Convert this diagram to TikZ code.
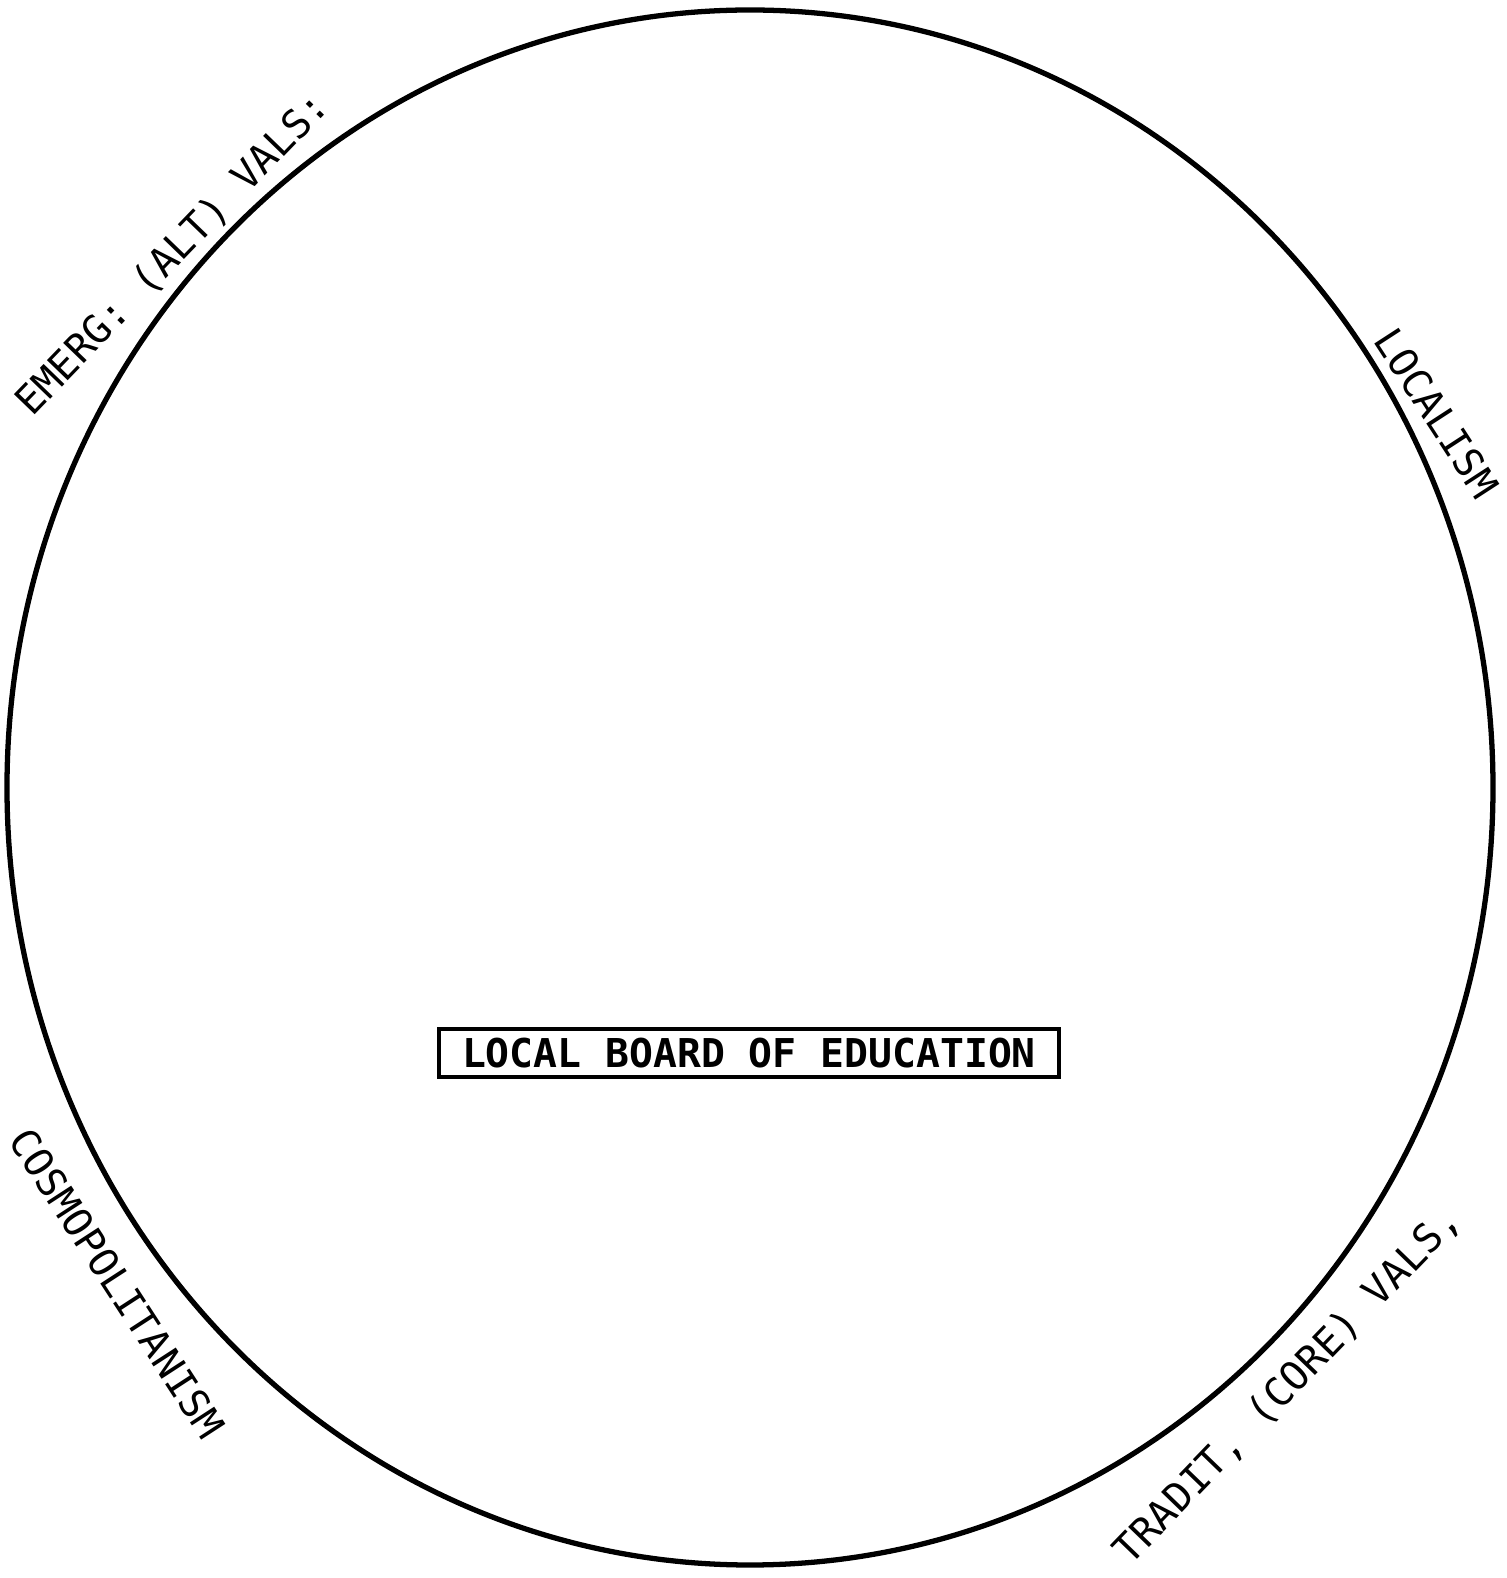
\documentclass[tikz,border=0pt]{standalone}
\usepackage{fontspec}
\setmonofont{DejaVu Sans Mono}
\usepackage{tikz}
\usetikzlibrary{positioning}

\begin{document}
\begin{tikzpicture}[
  font=\ttfamily\fontsize{11.3}{13}\selectfont,
  board/.style={draw=black, line width=1.1pt, minimum width=6.2cm, minimum height=0.48cm, inner sep=2pt, align=center, font=\ttfamily\bfseries\fontsize{11.3}{13}\selectfont},
  rim/.style={inner sep=0pt, anchor=center}
]
\useasboundingbox (0,0) rectangle (15.07,15.78);
\draw[line width=1.5pt] (7.50,7.905) ellipse [x radius=7.43cm, y radius=7.775cm];
\node[board] (lbe) at (7.49,5.25) {LOCAL BOARD OF EDUCATION};
\node[rim, rotate=46] (emerg) at (1.73,13.24) {EMERG: (ALT) VALS:};
\node[rim, rotate=-57] (localism) at (14.37,11.65) {LOCALISM};
\node[rim, rotate=-57] (cosmo) at (1.17,2.95) {COSMOPOLITANISM};
\node[rim, rotate=46] (tradit) at (12.88,1.92) {TRADIT, (CORE) VALS,};
\end{tikzpicture}
\end{document}
